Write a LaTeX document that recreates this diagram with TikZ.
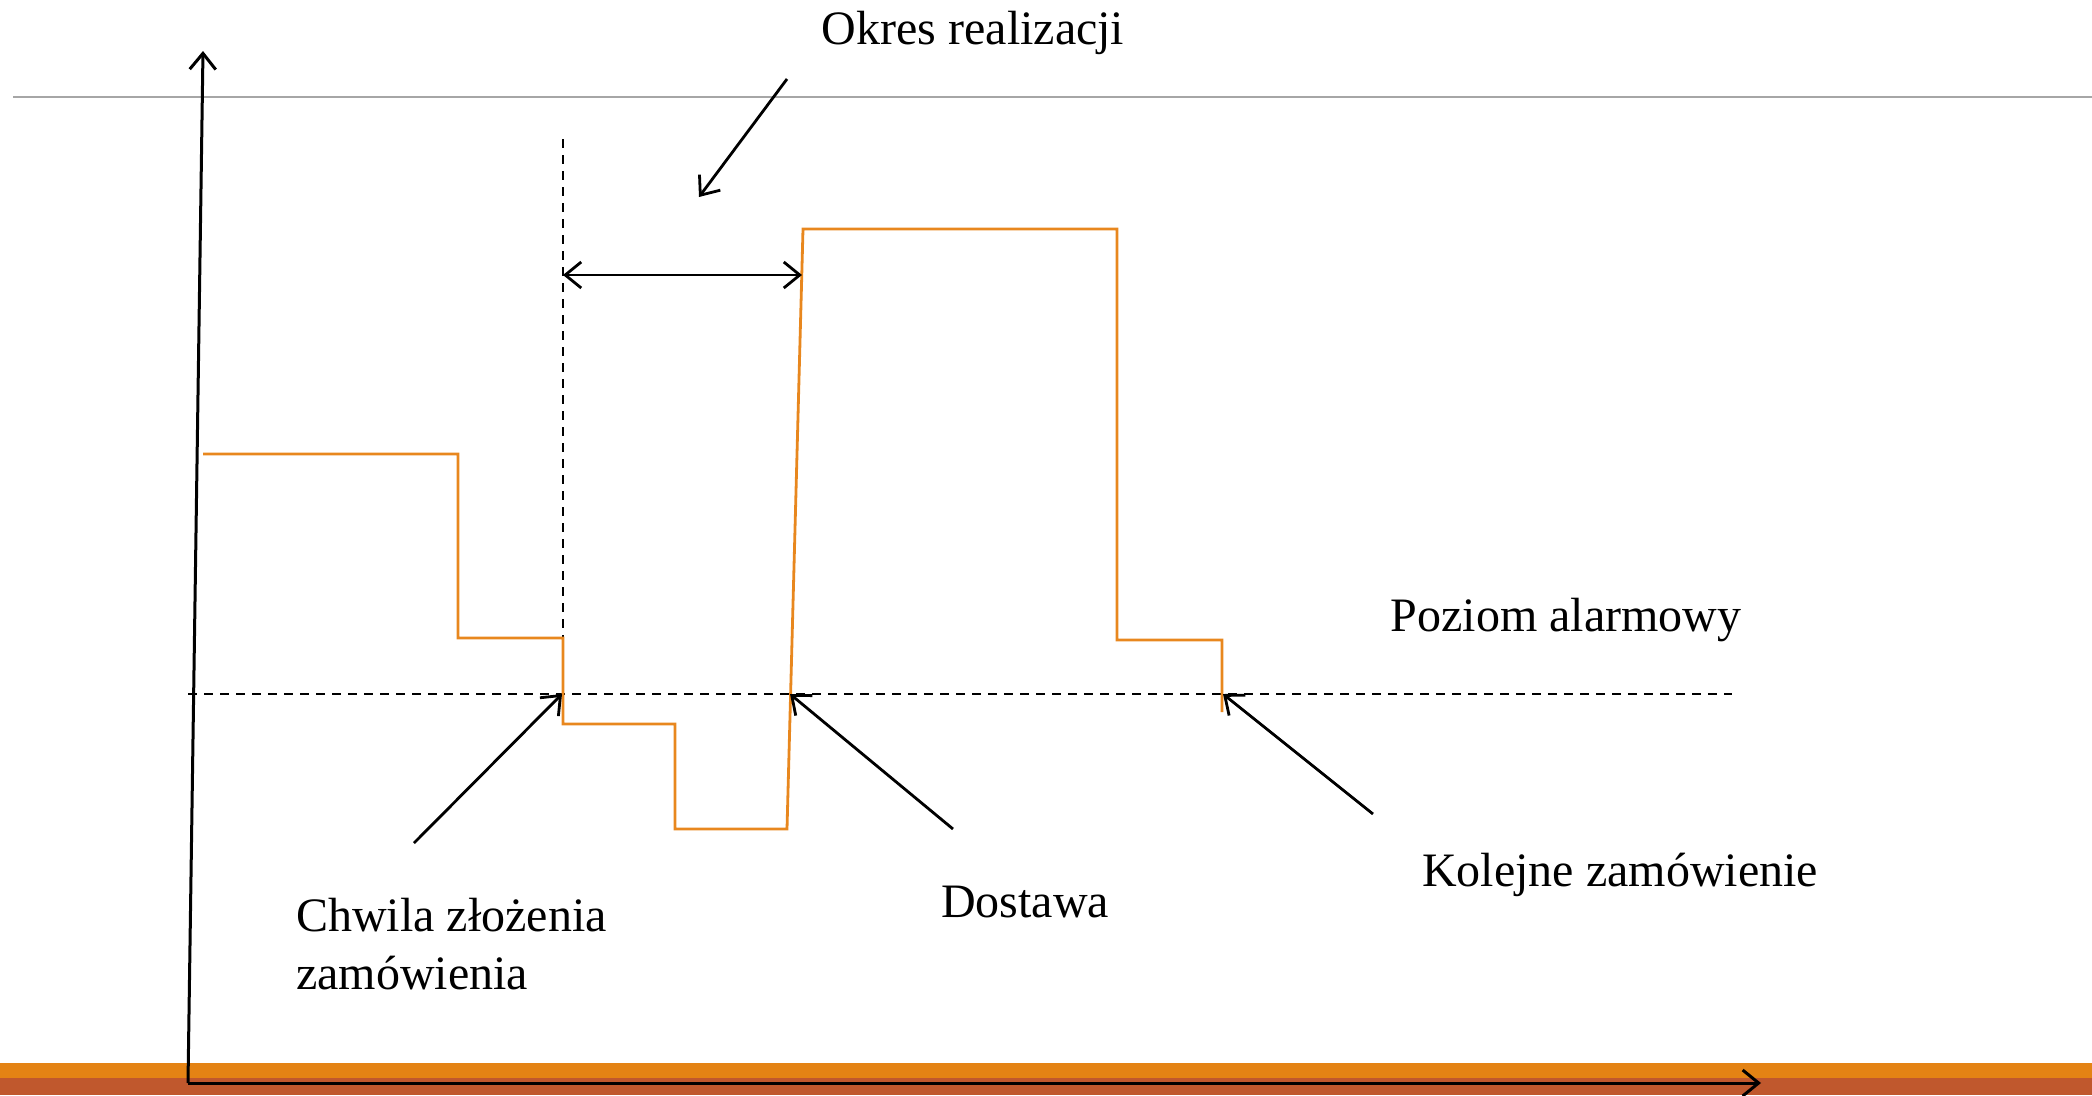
\documentclass[tikz,border=0pt]{standalone}
\usepackage{fontspec}
\setmainfont{Liberation Serif}
\usetikzlibrary{arrows.meta}
\definecolor{barorange}{HTML}{E48314}
\definecolor{barrust}{HTML}{C0582D}
\definecolor{stockline}{HTML}{E8871E}
\tikzset{
  lbl/.style={inner sep=0pt, font=\fontsize{48}{58}\selectfont},
  axis/.style={line width=3pt, -{Straight Barb[length=16pt,width=26pt,line width=3pt]}},
  pointer/.style={line width=2.8pt, -{Straight Barb[length=16pt,width=26pt,line width=2.8pt]}},
  level/.style={line width=2.8pt, dash pattern=on 9pt off 7pt},
  stock/.style={line width=2.8pt, stockline, line join=miter},
}
\begin{document}
\begin{tikzpicture}[x=1pt,y=-1pt]
\useasboundingbox (0,0) rectangle (2092,1095);
% bottom bars
\fill[barorange] (0,1063) rectangle (2092,1078);
\fill[barrust] (0,1078) rectangle (2092,1095);
% gray rule
\draw[line width=1.6pt, gray!70] (13,97) -- (2092,97);
% coordinates
\coordinate (origin) at (188,1083);
\coordinate (ytop) at (203,51);
\coordinate (xend) at (1761,1083);
\coordinate (alarmL) at (188,694);
\coordinate (alarmR) at (1732,694);
\coordinate (vtop) at (563,139);
\coordinate (vbot) at (563,638);
\coordinate (orderPt) at (562,694);
\coordinate (deliveryPt) at (790,694);
\coordinate (nextPt) at (1223,694);
\coordinate (leadL) at (563,275);
\coordinate (leadR) at (802,275);
\coordinate (okresTail) at (787,79);
\coordinate (okresHead) at (699,197);
\coordinate (chwilaTail) at (414,843);
\coordinate (dostawaTail) at (953,829);
\coordinate (kolejneTail) at (1373,814);
% axes
\draw[axis] (origin) -- (ytop);
\draw[axis] (origin) -- (xend);
% alarm level and order moment
\draw[level] (alarmL) -- (alarmR);
\draw[level] (vtop) -- (vbot);
% stock level
\draw[stock] (203,454) -- (458,454) -- (458,638) -- (563,638) -- (563,724)
  -- (675,724) -- (675,829) -- (787,829) -- (803,229) -- (1117,229)
  -- (1117,640) -- (1222,640) -- (1222,712);
% lead time
\draw[pointer, {Straight Barb[length=16pt,width=26pt,line width=2.8pt]}-{Straight Barb[length=16pt,width=26pt,line width=2.8pt]}] (leadL) -- (leadR);
\draw[pointer] (okresTail) -- (okresHead);
% labels
\node[lbl] (okres) at (973,33) {Okres realizacji};
\node[lbl] (poziom) at (1566,620) {Poziom alarmowy};
\node[lbl, align=left, anchor=north west, text depth=0pt] (chwila) at (296,898) {Chwila złożenia\\zamówienia};
\node[lbl] (dostawa) at (1025,902) {Dostawa};
\node[lbl] (kolejne) at (1620,875) {Kolejne zamówienie};
% pointers
\draw[pointer] (chwilaTail) -- (orderPt);
\draw[pointer] (dostawaTail) -- (deliveryPt);
\draw[pointer] (kolejneTail) -- (nextPt);
\end{tikzpicture}
\end{document}
